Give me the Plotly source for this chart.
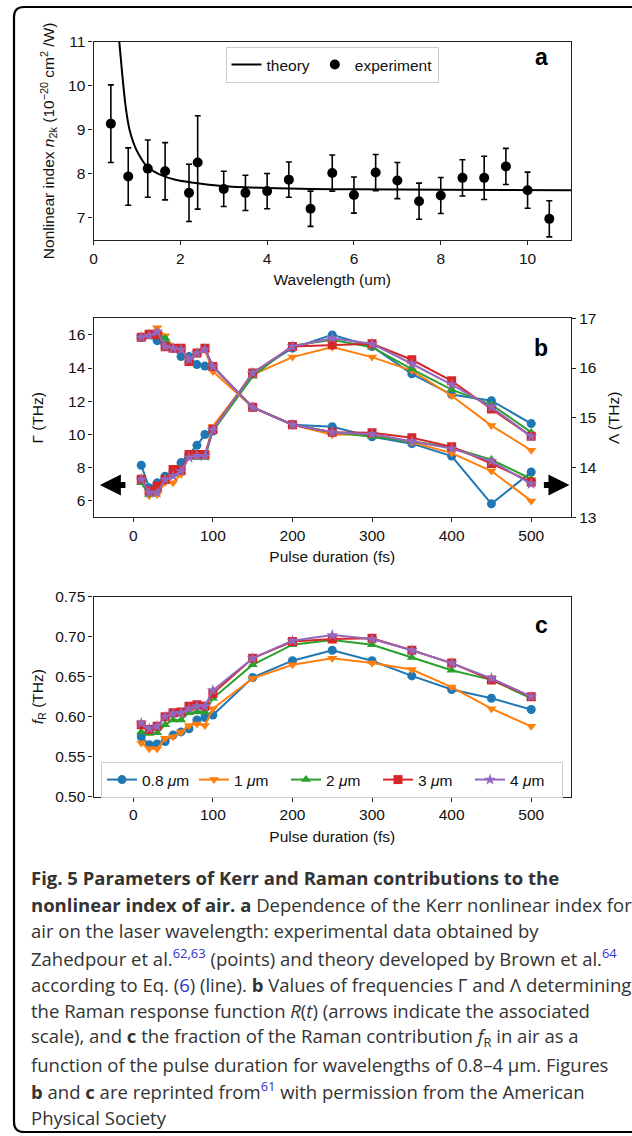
import plotly.graph_objects as go

W, H = 632, 1136

# ---------------- Panel a data ----------------
wl_exp = [0.4, 0.8, 1.25, 1.65, 2.2, 2.4, 3.0, 3.5, 4.0, 4.5, 5.0, 5.5, 6.0, 6.5, 7.0, 7.5, 8.0, 8.5, 9.0, 9.5, 10.0, 10.5]
n2_exp = [9.14, 7.94, 8.12, 8.06, 7.57, 8.26, 7.66, 7.57, 7.61, 7.87, 7.21, 8.02, 7.52, 8.03, 7.85, 7.38, 7.51, 7.91, 7.91, 8.17, 7.63, 6.98]
n2_err = [0.88, 0.65, 0.65, 0.65, 0.65, 1.06, 0.40, 0.40, 0.40, 0.40, 0.40, 0.41, 0.41, 0.41, 0.41, 0.41, 0.41, 0.41, 0.49, 0.41, 0.41, 0.41]
wl_theory = [0.59, 0.66, 0.74, 0.83, 0.99, 1.22, 1.52, 1.91, 2.52, 3.0, 4.0, 5.0, 6.0, 8.0, 11.0]
n2_theory = [11.04, 10.28, 9.53, 9.0, 8.54, 8.18, 7.99, 7.86, 7.77, 7.72, 7.68, 7.66, 7.65, 7.64, 7.63]

# ---------------- Panels b, c data ----------------
pulse = [10, 20, 30, 40, 50, 60, 70, 80, 90, 100, 150, 200, 250, 300, 350, 400, 450, 500]
labels = ["0.8 <i>μ</i>m", "1 <i>μ</i>m", "2 <i>μ</i>m", "3 <i>μ</i>m", "4 <i>μ</i>m"]

gamma_08 = [8.14, 6.78, 7.08, 7.48, 7.78, 8.30, 8.78, 9.34, 9.99, 10.20, 13.70, 15.20, 16.00, 15.30, 13.65, 12.40, 12.03, 10.65]
gamma_1 = [7.20, 6.30, 6.38, 7.10, 7.08, 7.60, 8.70, 8.70, 8.70, 10.49, 13.60, 14.66, 15.26, 14.66, 13.85, 12.33, 10.53, 9.04]
gamma_2 = [7.08, 6.38, 6.70, 7.18, 7.58, 7.70, 8.70, 8.60, 8.60, 10.20, 13.50, 15.35, 15.70, 15.26, 13.94, 12.70, 11.80, 10.12]
gamma_3 = [7.30, 6.58, 6.88, 7.28, 7.88, 7.84, 8.78, 8.78, 8.78, 10.30, 13.70, 15.30, 15.40, 15.46, 14.50, 13.23, 11.53, 9.88]
gamma_4 = [7.30, 6.48, 6.48, 7.28, 7.48, 7.78, 8.60, 8.70, 8.70, 10.27, 13.70, 15.30, 15.80, 15.46, 14.26, 13.00, 11.65, 9.88]

lam_08 = [16.62, 16.67, 16.55, 16.47, 16.40, 16.23, 16.23, 16.07, 16.04, 16.03, 15.21, 14.86, 14.82, 14.62, 14.48, 14.23, 13.27, 13.91]
lam_1 = [16.62, 16.70, 16.81, 16.65, 16.43, 16.40, 16.17, 16.30, 16.37, 15.93, 15.21, 14.86, 14.66, 14.67, 14.51, 14.29, 13.93, 13.33]
lam_2 = [16.62, 16.70, 16.70, 16.60, 16.40, 16.40, 16.15, 16.30, 16.38, 16.03, 15.21, 14.86, 14.71, 14.62, 14.53, 14.40, 14.16, 13.77]
lam_3 = [16.62, 16.68, 16.67, 16.43, 16.40, 16.40, 16.13, 16.30, 16.40, 16.03, 15.21, 14.86, 14.71, 14.70, 14.60, 14.42, 14.08, 13.71]
lam_4 = [16.62, 16.65, 16.73, 16.43, 16.40, 16.37, 16.17, 16.30, 16.38, 16.03, 15.21, 14.86, 14.71, 14.67, 14.53, 14.38, 14.13, 13.67]

fr_08 = [0.575, 0.565, 0.566, 0.569, 0.577, 0.581, 0.585, 0.596, 0.599, 0.602, 0.649, 0.670, 0.683, 0.670, 0.651, 0.634, 0.623, 0.609]
fr_1 = [0.567, 0.560, 0.560, 0.573, 0.575, 0.581, 0.589, 0.591, 0.589, 0.610, 0.648, 0.665, 0.673, 0.667, 0.659, 0.637, 0.610, 0.588]
fr_2 = [0.581, 0.579, 0.580, 0.590, 0.596, 0.596, 0.605, 0.606, 0.606, 0.623, 0.665, 0.690, 0.696, 0.690, 0.674, 0.658, 0.646, 0.623]
fr_3 = [0.590, 0.584, 0.588, 0.600, 0.605, 0.606, 0.613, 0.615, 0.613, 0.629, 0.673, 0.694, 0.697, 0.698, 0.683, 0.667, 0.646, 0.625]
fr_4 = [0.592, 0.585, 0.588, 0.600, 0.604, 0.605, 0.610, 0.613, 0.613, 0.633, 0.673, 0.695, 0.702, 0.697, 0.683, 0.667, 0.648, 0.625]

gammas = [gamma_08, gamma_1, gamma_2, gamma_3, gamma_4]
lams = [lam_08, lam_1, lam_2, lam_3, lam_4]
frs = [fr_08, fr_1, fr_2, fr_3, fr_4]

colors = ["#1f77b4", "#ff7f0e", "#2ca02c", "#d62728", "#9467bd"]
symbols = ["circle", "triangle-down", "triangle-up", "square", "star"]

FONT = "Liberation Sans, Arial, sans-serif"
FS = 15.5


def py(p):
    return 1 - p / H


def px(p):
    return p / W


fig = go.Figure()

# Panel a
fig.add_trace(go.Scatter(x=wl_theory, y=n2_theory, mode="lines", name="theory",
                         line=dict(color="black", width=2, shape="spline", smoothing=0.6),
                         xaxis="x", yaxis="y", legend="legend"))
fig.add_trace(go.Scatter(x=wl_exp, y=n2_exp, mode="markers", name="experiment",
                         marker=dict(color="black", size=10),
                         error_y=dict(type="data", array=n2_err, color="black", thickness=1.6, width=3),
                         xaxis="x", yaxis="y", legend="legend"))

# Panel b
for i in range(5):
    fig.add_trace(go.Scatter(x=pulse, y=gammas[i], mode="lines+markers", showlegend=False,
                             line=dict(color=colors[i], width=2),
                             marker=dict(symbol=symbols[i], size=9, color=colors[i], line=dict(width=0)),
                             xaxis="x2", yaxis="y2"))
    fig.add_trace(go.Scatter(x=pulse, y=lams[i], mode="lines+markers", showlegend=False,
                             line=dict(color=colors[i], width=2),
                             marker=dict(symbol=symbols[i], size=9, color=colors[i], line=dict(width=0)),
                             xaxis="x2", yaxis="y3"))

# Panel c
for i in range(5):
    fig.add_trace(go.Scatter(x=pulse, y=frs[i], mode="lines+markers", name=labels[i],
                             line=dict(color=colors[i], width=2),
                             marker=dict(symbol=symbols[i], size=9, color=colors[i], line=dict(width=0)),
                             xaxis="x3", yaxis="y4", legend="legend2"))

axis_common = dict(showline=True, linecolor="#222", linewidth=1.2, mirror=True, ticks="outside",
                   ticklen=4, tickwidth=1.2, tickcolor="#222", showgrid=False, zeroline=False,
                   automargin=False,
                   tickfont=dict(family=FONT, size=FS, color="#111"),
                   title_font=dict(family=FONT, size=FS, color="#111"))

xdom = [px(93.5), px(571)]

fig.update_layout(
    width=W, height=H,
    margin=dict(l=0, r=0, t=0, b=0, pad=0, autoexpand=False),
    paper_bgcolor="white", plot_bgcolor="white",
    font=dict(family=FONT, size=FS, color="#111"),
    xaxis=dict(domain=xdom, anchor="y", range=[0, 11], tickvals=[0, 2, 4, 6, 8, 10],
               title=dict(text="Wavelength (um)", standoff=8), **axis_common),
    yaxis=dict(domain=[py(240), py(41.7)], anchor="x", range=[6.5, 11], tickvals=[7, 8, 9, 10, 11],
               title=dict(text="Nonlinear index <i>n</i><sub>2k</sub> (10<sup>−20</sup> cm<sup>2</sup> /W)", standoff=9),
               **axis_common),
    xaxis2=dict(domain=xdom, anchor="y2", range=[-50, 550], tickvals=[0, 100, 200, 300, 400, 500],
                title=dict(text="Pulse duration (fs)", standoff=8), **axis_common),
    yaxis2=dict(domain=[py(517.3), py(318.3)], anchor="x2", range=[5, 17], tickvals=[6, 8, 10, 12, 14, 16],
                title=dict(text="Γ (THz)", standoff=20), **axis_common),
    yaxis3=dict(overlaying="y2", anchor="x2", side="right", range=[13, 17], tickvals=[13, 14, 15, 16, 17],
                title=dict(text="Λ (THz)", standoff=12), **axis_common),
    xaxis3=dict(domain=xdom, anchor="y4", range=[-50, 550], tickvals=[0, 100, 200, 300, 400, 500],
                title=dict(text="Pulse duration (fs)", standoff=8), **axis_common),
    yaxis4=dict(domain=[py(796.7), py(596.7)], anchor="x3", range=[0.5, 0.75],
                tickvals=[0.5, 0.55, 0.6, 0.65, 0.7, 0.75], tickformat=".2f",
                title=dict(text="<i>f</i><sub>R</sub> (THz)", standoff=7), **axis_common),
    legend=dict(x=px(332), xanchor="center", y=py(47), yanchor="top", orientation="h",
                bordercolor="#cccccc", borderwidth=1, bgcolor="white",
                font=dict(family=FONT, size=FS, color="#111"), itemwidth=30),
    legend2=dict(x=px(332), xanchor="center", y=py(762), yanchor="top", orientation="h",
                 bordercolor="#cccccc", borderwidth=1, bgcolor="white",
                 font=dict(family=FONT, size=FS, color="#111"), itemwidth=30,
                 entrywidth=47, entrywidthmode="pixels"),
    showlegend=True,
)

ann = []
# Panel letters
for lab, yy in [("a", 57), ("b", 348), ("c", 625)]:
    ann.append(dict(text="<b>%s</b>" % lab, x=px(541), y=py(yy), xref="paper", yref="paper",
                    showarrow=False, xanchor="center", yanchor="middle",
                    font=dict(family=FONT, size=23, color="black")))

# Arrows in panel b
ann.append(dict(x=-42, y=6.95, ax=-8, ay=6.95, xref="x2", yref="y2", axref="x2", ayref="y2",
                text="", showarrow=True, arrowhead=2, arrowsize=0.7, arrowwidth=6, arrowcolor="black"))
ann.append(dict(x=548, y=6.95, ax=514, ay=6.95, xref="x2", yref="y2", axref="x2", ayref="y2",
                text="", showarrow=True, arrowhead=2, arrowsize=0.7, arrowwidth=6, arrowcolor="black"))

# Caption
CF = "Open Sans, Lato, sans-serif"
blue = "#3333cc"
cap_lines = [
    "<b>Fig. 5 Parameters of Kerr and Raman contributions to the</b>",
    "<b>nonlinear index of air. a</b> Dependence of the Kerr nonlinear index for",
    "air on the laser wavelength: experimental data obtained by",
    "Zahedpour et al.<sup><span style='color:%s'>62,63</span></sup> (points) and theory developed by Brown et al.<sup><span style='color:%s'>64</span></sup>" % (blue, blue),
    "according to Eq. (<span style='color:%s'>6</span>) (line). <b>b</b> Values of frequencies Γ and Λ determining" % blue,
    "the Raman response function <i>R</i>(<i>t</i>) (arrows indicate the associated",
    "scale), and <b>c</b> the fraction of the Raman contribution <i>f</i><sub>R</sub> in air as a",
    "function of the pulse duration for wavelengths of 0.8–4 µm. Figures",
    "<b>b</b> and <b>c</b> are reprinted from<sup><span style='color:%s'>61</span></sup> with permission from the American" % blue,
    "Physical Society",
]
cap_y = [877, 904, 930.7, 957, 984, 1010.7, 1037, 1064, 1090.7, 1117]
for t, yy in zip(cap_lines, cap_y):
    ann.append(dict(text=t, x=px(29), y=py(yy), xref="paper", yref="paper", showarrow=False,
                    xanchor="left", yanchor="middle", align="left",
                    font=dict(family=CF, size=18.5, color="#333")))

fig.update_layout(annotations=ann)

# Frame (rounded rectangle, right side beyond the visible edge)
x0, x1, y0, y1, r = 14, 645, 7, 1132, 10
path = (f"M {px(x0 + r)},{py(y0)} L {px(x1)},{py(y0)} L {px(x1)},{py(y1)} L {px(x0 + r)},{py(y1)} "
        f"Q {px(x0)},{py(y1)} {px(x0)},{py(y1 - r)} L {px(x0)},{py(y0 + r)} Q {px(x0)},{py(y0)} {px(x0 + r)},{py(y0)} Z")
fig.add_shape(type="path", path=path, xref="paper", yref="paper", line=dict(color="black", width=2.2),
              fillcolor="rgba(0,0,0,0)", layer="below")

fig.write_html("out.html", config={"displayModeBar": False},
               post_script="document.body.style.margin='0';document.body.style.padding='0';"
                           "document.documentElement.style.overflow='hidden';")
